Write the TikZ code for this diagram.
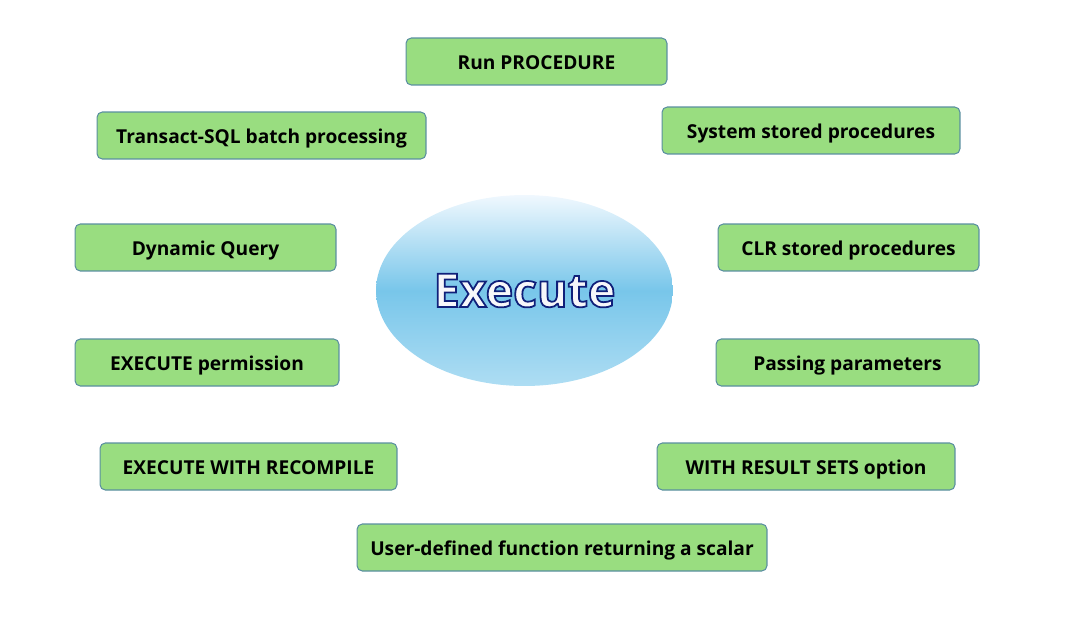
\documentclass[tikz,border=0pt]{standalone}
\usepackage{fontspec}
\setmainfont{Open Sans}
\usetikzlibrary{shapes.geometric}

\definecolor{boxgreen}{HTML}{99DD80}
\definecolor{boxedge}{HTML}{5A8FA0}
\definecolor{ovaltop}{HTML}{F0F8FE}
\definecolor{ovalmid}{HTML}{78C6EA}
\definecolor{ovalbot}{HTML}{AEDDF3}

% white letters with a dark blue outline
\newcommand{\outlined}[1]{\special{pdf:code q 2 Tr 1.0 w 0.063 0.125 0.478 RG 0.97 0.97 0.98 rg}#1\special{pdf:code Q}}

\tikzset{
    topic/.style={draw=boxedge, fill=boxgreen, line width=0.6pt, rounded corners=3pt,
        minimum height=0.94cm, inner sep=0pt, text height=0.9em, text depth=0pt,
        font=\fontsize{10.9}{13}\selectfont\bfseries},
    hub/.style={ellipse, minimum width=5.94cm, minimum height=3.82cm, inner sep=0pt,
        top color=ovaltop, bottom color=ovalbot, middle color=ovalmid, shading angle=0}
}

\begin{document}
\begin{tikzpicture}[x=0.02cm, y=-0.02cm]
    \useasboundingbox (0,0) rectangle (1077,635);

    % centre oval
    \node[hub] (exec) at (524.5,290.5) {};
    \node at (exec) {\fontsize{26.5}{30}\selectfont\bfseries\outlined{Execute}};

    % topics around it
    \node[topic, minimum width=5.22cm] (runproc) at (536.5,61.5) {Run PROCEDURE};
    \node[topic, minimum width=6.58cm] (tsql) at (261.5,135.5) {Transact-SQL batch processing};
    \node[topic, minimum width=5.96cm] (sysproc) at (811,130.5) {System stored procedures};
    \node[topic, minimum width=5.22cm] (dynq) at (205.5,247.5) {Dynamic Query};
    \node[topic, minimum width=5.22cm] (clrproc) at (848.5,247.5) {CLR stored procedures};
    \node[topic, minimum width=5.28cm] (perm) at (207,362.5) {EXECUTE permission};
    \node[topic, minimum width=5.26cm] (params) at (847.5,362.5) {Passing parameters};
    \node[topic, minimum width=5.94cm] (recomp) at (248.5,466.5) {EXECUTE WITH RECOMPILE};
    \node[topic, minimum width=5.96cm] (resset) at (806,466.5) {WITH RESULT SETS option};
    \node[topic, minimum width=8.2cm] (udf) at (562,547.5) {User-defined function returning a scalar};

\end{tikzpicture}
\end{document}
